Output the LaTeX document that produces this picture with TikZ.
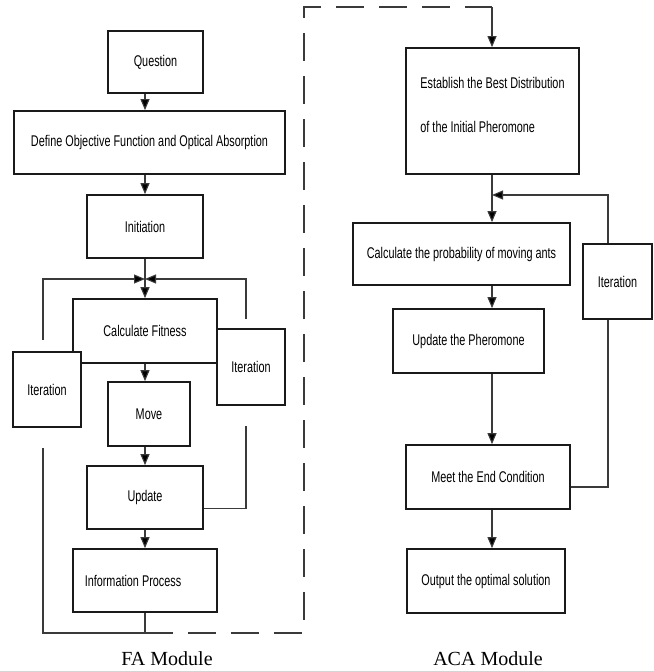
\documentclass[tikz,border=0pt]{standalone}
\usepackage{fontspec}
\setmainfont{Liberation Serif}
\newfontfamily\boxfont[FakeStretch=0.7]{Liberation Sans}
\usetikzlibrary{arrows.meta}
\definecolor{boxLine}{HTML}{1A1A1A}
\definecolor{flowGray}{HTML}{3A3A3A}

\begin{document}
\begin{tikzpicture}[x=1pt, y=-1pt, >={Triangle[length=11pt, width=9pt, fill=black]}]

    \useasboundingbox (0,0) rectangle (653,671);

    % Common styles
    \tikzstyle{box}=[draw=boxLine, line width=1.7pt, fill=white, inner sep=0pt, font=\boxfont\fontsize{15.5}{18}\selectfont]
    \tikzstyle{flow}=[draw=flowGray, line width=1.1pt]

    % --- 1. Helper Coordinates ---
    \coordinate (axisL) at (145, 0);
    \coordinate (axisR) at (492, 0);
    \coordinate (joinL) at (145, 279);
    \coordinate (loopL) at (43, 279);
    \coordinate (loopR) at (246, 279);
    \coordinate (baseL) at (43, 633);
    \coordinate (dashC) at (304, 7);
    \coordinate (dashR) at (492, 7);
    \coordinate (joinR) at (492, 195);
    \coordinate (loopA) at (608, 195);


    % --- 2. FA Module Boxes ---
    \node[box, minimum width=95pt, minimum height=62pt] (q) at (155.5, 62) {Question};
    \node[box, minimum width=271pt, minimum height=63pt] (def) at (149.5, 142.5) {Define Objective Function and Optical Absorption};
    \node[box, minimum width=116pt, minimum height=63pt] (ini) at (145, 226.5) {Initiation};
    \node[box, minimum width=144pt, minimum height=64pt] (fit) at (145, 331) {Calculate Fitness};
    \node[box, minimum width=82pt, minimum height=64pt] (mov) at (149, 414) {Move};
    \node[box, minimum width=116pt, minimum height=63pt] (upd) at (145, 497.5) {Update};
    \node[box, minimum width=144pt, minimum height=63pt] (inf) at (145, 580.5) {Information Process\hspace*{24pt}};

    % Iteration boxes (drawn over the fitness box)
    \node[box, minimum width=68pt, minimum height=75pt] (itL) at (47, 389.5) {Iteration};
    \node[box, minimum width=68pt, minimum height=76pt] (itR) at (251, 367) {Iteration};


    % --- 3. ACA Module Boxes ---
    \node[box, minimum width=173pt, minimum height=126pt, align=left] (est) at (492.5, 111)
        {Establish the Best Distribution\\[26pt]of the Initial Pheromone\\[-6pt]\mbox{}};
    \node[box, minimum width=217pt, minimum height=62pt] (prob) at (461.5, 254) {Calculate the probability of moving ants};
    \node[box, minimum width=151pt, minimum height=64pt] (ph) at (468.5, 341) {Update the Pheromone};
    \node[box, minimum width=164pt, minimum height=64pt] (meet) at (488, 477) {Meet the End Condition};
    \node[box, minimum width=158pt, minimum height=64pt] (out) at (486, 581) {Output the optimal solution};
    \node[box, minimum width=69pt, minimum height=75pt] (itA) at (617.5, 281.5) {Iteration};


    % --- 4. FA Flow ---
    \foreach \a/\b in {q/def, def/ini, fit/mov, mov/upd, upd/inf}
        \draw[flow, ->] (\a.south -| axisL) -- (\b.north -| axisL);
    \draw[flow, ->] (ini.south) -- (fit.north);

    % Right loop (Update back to fitness)
    \draw[flow, shorten >=20pt] ([yshift=-11pt]upd.east) -| (loopR |- itR.south);
    \draw[flow, shorten <=9pt, ->] (loopR |- itR.north) -- (loopR) -- (joinL);

    % Left loop (Information Process back to fitness)
    \draw[flow, shorten >=20pt] (inf.south) |- (baseL) -- (loopL |- itL.south);
    \draw[flow, shorten <=11pt, ->] (loopL |- itL.north) -- (loopL) -- (joinL);


    % --- 5. Link between the modules ---
    \draw[flow, dash pattern=on 28pt off 15pt] (inf.south |- baseL) -| (dashC) -- (dashR);
    \draw[flow, ->] (dashR) -- (est.north -| axisR);


    % --- 6. ACA Flow ---
    \foreach \a/\b in {est/prob, prob/ph, ph/meet, meet/out}
        \draw[flow, ->] (\a.south -| axisR) -- (\b.north -| axisR);

    % Loop (End condition back to probability)
    \draw[flow] ([yshift=-10pt]meet.east) -| (loopA |- itA.south);
    \draw[flow, ->] (loopA |- itA.north) -- (loopA) -- (joinR);


    % --- 7. Module Captions ---
    \node[font=\fontsize{20}{24}\selectfont, inner sep=0pt] (capFA) at (167, 659) {FA Module};
    \node[font=\fontsize{20}{24}\selectfont, inner sep=0pt] (capACA) at (488, 659) {ACA Module};

\end{tikzpicture}
\end{document}
